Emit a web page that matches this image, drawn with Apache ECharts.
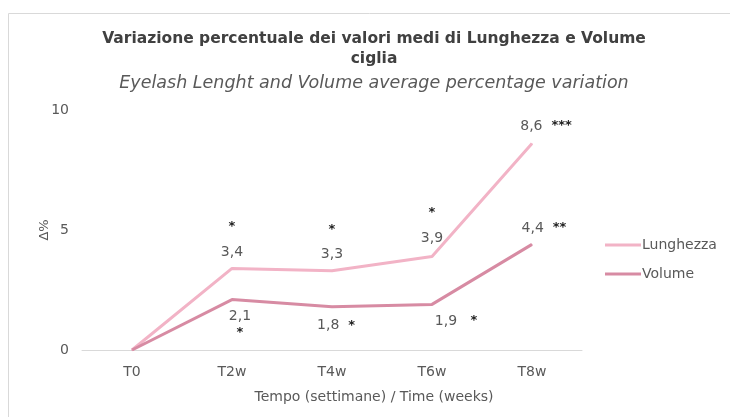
<!DOCTYPE html>
<html>
<head>
<meta charset="utf-8">
<script src="https://cdn.jsdelivr.net/npm/echarts@6/dist/echarts.min.js"></script>
<style>
  html, body { margin: 0; padding: 0; background: #fff; }
  #chart { width: 730px; height: 417px; }
</style>
</head>
<body>
<div id="chart"></div>
<script>
var categories = ['T0', 'T2w', 'T4w', 'T6w', 'T8w'];
var lunghezza = [0, 3.4, 3.3, 3.9, 8.6];
var volume = [0, 2.1, 1.8, 1.9, 4.4];
var sigLunghezza = ['', '*', '*', '*', '***'];
var sigVolume = ['', '*', '*', '*', '**'];
var yTicks = [0, 5, 10];

var dom = document.getElementById('chart');
var myChart = echarts.init(dom);

function fmt(v) { return String(v).replace('.', ','); }

// label layouts per point (style only)
var lunLabel = [
  { show: false },
  { position: 'top', offset: [0, -4], formatter: function (p) { return '{s|' + sigLunghezza[p.dataIndex] + '}\n\n' + fmt(p.value); } },
  { position: 'top', offset: [0, -4], formatter: function (p) { return '{s|' + sigLunghezza[p.dataIndex] + '}\n\n' + fmt(p.value); } },
  { position: 'top', offset: [0, -6], formatter: function (p) { return '{s|' + sigLunghezza[p.dataIndex] + '}\n\n' + fmt(p.value); } },
  { position: 'top', offset: [14, -5], formatter: function (p) { return fmt(p.value) + '  {s|' + sigLunghezza[p.dataIndex] + '}'; } }
];
var volLabel = [
  { show: false },
  { position: 'bottom', offset: [8, 4], formatter: function (p) { return fmt(p.value) + '\n{t|' + sigVolume[p.dataIndex] + '}'; } },
  { position: 'bottom', offset: [4, 6], formatter: function (p) { return fmt(p.value) + '  {s|' + sigVolume[p.dataIndex] + '}'; } },
  { position: 'bottom', offset: [24, 4], formatter: function (p) { return fmt(p.value) + '   {s|' + sigVolume[p.dataIndex] + '}'; } },
  { position: 'top', offset: [12, -4], formatter: function (p) { return fmt(p.value) + '  {s|' + sigVolume[p.dataIndex] + '}'; } }
];

function build(values, labels) {
  return values.map(function (v, i) {
    var lab = Object.assign({}, labels[i]);
    if (lab.show !== false) lab.show = true;
    return { value: v, label: lab };
  });
}

var labelBase = {
  show: true,
  color: '#595959',
  fontSize: 14,
  fontFamily: 'DejaVu Sans',
  lineHeight: 14,
  rich: {
    s: { color: '#222', fontSize: 13, fontWeight: 'bold', fontFamily: 'DejaVu Sans', lineHeight: 8 },
    t: { color: '#222', fontSize: 13, fontWeight: 'bold', fontFamily: 'DejaVu Sans', lineHeight: 20 }
  }
};

var option = {
  animation: false,
  graphic: [{
    type: 'rect',
    shape: { x: 8.5, y: 13.5, width: 740, height: 420 },
    style: { fill: 'none', stroke: '#d9d9d9', lineWidth: 1 }
  }],
  title: {
    text: 'Variazione percentuale dei valori medi di Lunghezza e Volume\nciglia',
    subtext: 'Eyelash Lenght and Volume average percentage variation',
    left: 369,
    textAlign: 'center',
    top: 24,
    itemGap: 5,
    textStyle: { fontFamily: 'DejaVu Sans', fontSize: 15.5, fontWeight: 'bold', color: '#404040', lineHeight: 20 },
    subtextStyle: { fontFamily: 'DejaVu Sans', fontSize: 17.5, fontStyle: 'italic', color: '#595959' }
  },
  legend: {
    orient: 'vertical',
    left: 600,
    top: 233,
    itemWidth: 36,
    itemHeight: 3,
    itemGap: 15,
    icon: 'rect',
    data: ['Lunghezza', 'Volume'],
    textStyle: { fontFamily: 'DejaVu Sans', fontSize: 14, color: '#595959', padding: [0, 0, 0, -4] }
  },
  grid: { left: 82, right: 148, top: 110, bottom: 67 },
  xAxis: {
    type: 'category',
    data: categories,
    boundaryGap: true,
    name: 'Tempo (settimane) / Time (weeks)',
    nameLocation: 'middle',
    nameGap: 40,
    nameTextStyle: { fontFamily: 'DejaVu Sans', fontSize: 14, color: '#595959', padding: [0, 0, 0, 84] },
    axisLine: { lineStyle: { color: '#d9d9d9', width: 1 } },
    axisTick: { show: false },
    axisLabel: { fontFamily: 'DejaVu Sans', fontSize: 14, color: '#595959', margin: 15 }
  },
  yAxis: {
    type: 'value',
    min: yTicks[0],
    max: yTicks[yTicks.length - 1],
    interval: 5,
    name: 'Δ%',
    nameLocation: 'middle',
    nameGap: 31,
    nameMoveOverlap: false,
    nameRotate: 90,
    nameTextStyle: { fontFamily: 'DejaVu Sans', fontSize: 13, color: '#595959' },
    splitLine: { show: false },
    axisLine: { show: false },
    axisTick: { show: false },
    axisLabel: { fontFamily: 'DejaVu Sans', fontSize: 14, color: '#595959', margin: 13 }
  },
  series: [
    {
      name: 'Lunghezza',
      type: 'line',
      data: build(lunghezza, lunLabel),
      symbol: 'circle',
      symbolSize: 1,
      showSymbol: true,
      itemStyle: { color: '#f2b3c6' },
      lineStyle: { width: 3, color: '#f2b3c6' },
      label: labelBase
    },
    {
      name: 'Volume',
      type: 'line',
      data: build(volume, volLabel),
      symbol: 'circle',
      symbolSize: 1,
      showSymbol: true,
      itemStyle: { color: '#d78ba3' },
      lineStyle: { width: 3, color: '#d78ba3' },
      label: labelBase
    }
  ]
};

myChart.setOption(option);
</script>
</body>
</html>
